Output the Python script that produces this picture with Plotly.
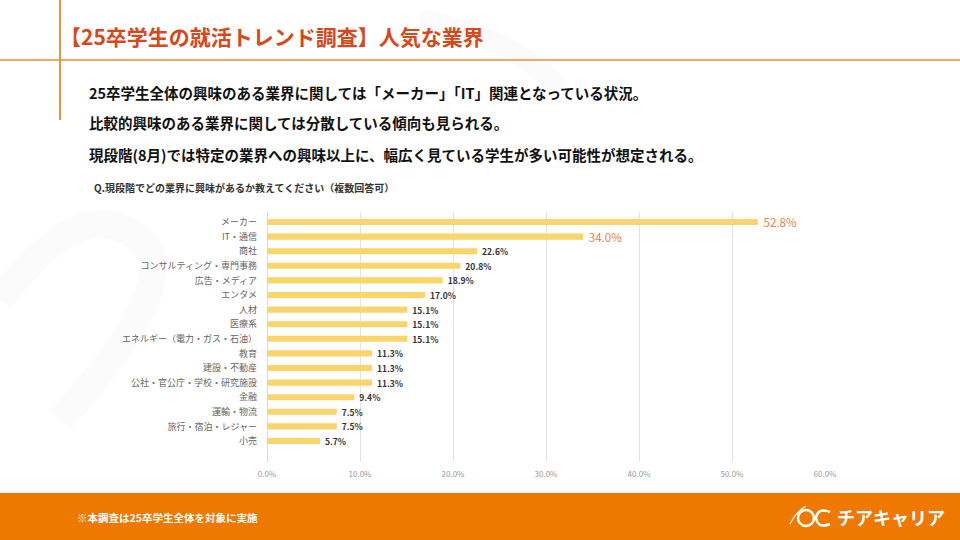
import plotly.graph_objects as go

categories = ["メーカー", "IT・通信", "商社", "コンサルティング・専門事務", "広告・メディア",
              "エンタメ", "人材", "医療系", "エネルギー（電力・ガス・石油）", "教育",
              "建設・不動産", "公社・官公庁・学校・研究施設", "金融", "運輸・物流",
              "旅行・宿泊・レジャー", "小売"]
values = [52.8, 34.0, 22.6, 20.8, 18.9, 17.0, 15.1, 15.1, 15.1, 11.3, 11.3, 11.3, 9.4, 7.5, 7.5, 5.7]
x_ticks = [0, 10, 20, 30, 40, 50, 60]
x_tick_labels = ["0.0%", "10.0%", "20.0%", "30.0%", "40.0%", "50.0%", "60.0%"]

title_text = "【25卒学生の就活トレンド調査】人気な業界"
body_lines = [
    "25卒学生全体の興味のある業界に関しては「メーカー」「IT」関連となっている状況。",
    "比較的興味のある業界に関しては分散している傾向も見られる。",
    "現段階(8月)では特定の業界への興味以上に、幅広く見ている学生が多い可能性が想定される。",
]
question = "Q.現段階でどの業界に興味があるか教えてください（複数回答可）"
footnote = "※本調査は25卒学生全体を対象に実施"
brand = "チアキャリア"

W, H = 960, 540
FONT = "Noto Sans CJK JP"
ORANGE = "#EE7800"
LINE = "#E8923A"
TITLE_C = "#D9481A"
BAR_C = "#FAD56B"


def px(x):
    return x / W


def py(y):
    return 1 - y / H


n = len(categories)
texts, tsizes, tcolors = [], [], []
for i, v in enumerate(values):
    if i < 2:
        texts.append(f" {v:.1f}%")
        tsizes.append(11.5)
        tcolors.append("#E8843E")
    else:
        texts.append(f" <b>{v:.1f}%</b>")
        tsizes.append(8.5)
        tcolors.append("#333333")

fig = go.Figure()
fig.add_trace(go.Bar(
    x=values, y=list(range(n)), orientation="h",
    marker=dict(color=BAR_C, line=dict(width=0)),
    width=0.42,
    text=texts, textposition="outside", cliponaxis=False, constraintext="none",
    textfont=dict(family=FONT, size=tsizes, color=tcolors),
    hoverinfo="skip",
))

# plot area geometry
top_px, bot_px = 212, 462
first_cat_px = 222
spacing = (441 - 222) / 15
units = (bot_px - top_px) / spacing
r_top = -(first_cat_px - top_px) / spacing
r_bot = r_top + units

fig.update_layout(
    width=W, height=H,
    margin=dict(l=0, r=0, t=0, b=0),
    paper_bgcolor="white", plot_bgcolor="rgba(0,0,0,0)",
    showlegend=False,
    xaxis=dict(domain=[px(267), px(825)], range=[0, 60], tickvals=x_ticks,
               ticktext=x_tick_labels, showgrid=True, gridcolor="#E3E3E3", gridwidth=1,
               zeroline=True, zerolinecolor="#DADADA", zerolinewidth=1,
               tickfont=dict(family=FONT, size=8, color="#9A9A9A"),
               ticks="", ticklabelstandoff=6, automargin=False, fixedrange=True,
               anchor="y"),
    yaxis=dict(domain=[py(bot_px), py(top_px)], range=[r_bot, r_top],
               tickvals=list(range(n)), ticktext=categories, showgrid=False,
               zeroline=False, ticks="", ticklabelstandoff=9,
               tickfont=dict(family=FONT, size=9, color="#666666"),
               automargin=False, fixedrange=True, anchor="x"),
    font=dict(family=FONT),
)

shapes = []
# faint watermark strokes
shapes.append(dict(type="path", xref="paper", yref="paper",
                   path=f"M {px(0)},{py(300)} Q {px(90)},{py(180)} {px(150)},{py(250)} "
                        f"Q {px(170)},{py(300)} {px(60)},{py(420)}",
                   line=dict(color="rgba(0,0,0,0.015)", width=28), layer="below"))
shapes.append(dict(type="path", xref="paper", yref="paper",
                   path=f"M {px(420)},{py(20)} Q {px(520)},{py(40)} {px(560)},{py(90)}",
                   line=dict(color="rgba(0,0,0,0.015)", width=22), layer="below"))
# header lines
shapes.append(dict(type="line", xref="paper", yref="paper", x0=0, x1=1, y0=py(60), y1=py(60),
                   line=dict(color=LINE, width=1.6), layer="below"))
shapes.append(dict(type="line", xref="paper", yref="paper", x0=px(60), x1=px(60), y0=py(0), y1=py(120),
                   line=dict(color=LINE, width=2), layer="below"))
# footer
shapes.append(dict(type="rect", xref="paper", yref="paper", x0=0, x1=1, y0=0, y1=py(493),
                   fillcolor=ORANGE, line=dict(width=0), layer="below"))
# logo mark
shapes.append(dict(type="circle", xref="paper", yref="paper",
                   x0=px(798), x1=px(814), y0=py(526), y1=py(510),
                   line=dict(color="white", width=2.5), layer="above"))
shapes.append(dict(type="path", xref="paper", yref="paper",
                   path=f"M {px(830)},{py(512)} Q {px(818)},{py(507)} {px(816)},{py(518)} "
                        f"Q {px(818)},{py(529)} {px(830)},{py(524)}",
                   line=dict(color="white", width=2.5), layer="above"))
shapes.append(dict(type="path", xref="paper", yref="paper",
                   path=f"M {px(790)},{py(524)} Q {px(796)},{py(512)} {px(806)},{py(506)}",
                   line=dict(color="white", width=1.2), layer="above"))
fig.update_layout(shapes=shapes)

ann = []
ann.append(dict(text=f"<b>{title_text}</b>", x=px(58), y=py(36), xref="paper", yref="paper",
                xanchor="left", yanchor="middle", showarrow=False,
                font=dict(family=FONT, size=21, color=TITLE_C)))
for i, line in enumerate(body_lines):
    ann.append(dict(text=f"<b>{line}</b>", x=px(87), y=py(92 + i * 31), xref="paper", yref="paper",
                    xanchor="left", yanchor="middle", showarrow=False,
                    font=dict(family=FONT, size=14.5, color="#111111")))
ann.append(dict(text=f"<b>{question}</b>", x=px(92), y=py(187), xref="paper", yref="paper",
                xanchor="left", yanchor="middle", showarrow=False,
                font=dict(family=FONT, size=10, color="#333333")))
ann.append(dict(text=f"<b>{footnote}</b>", x=px(75), y=py(517), xref="paper", yref="paper",
                xanchor="left", yanchor="middle", showarrow=False,
                font=dict(family=FONT, size=10.5, color="white")))
ann.append(dict(text=f"<b>{brand}</b>", x=px(835), y=py(517), xref="paper", yref="paper",
                xanchor="left", yanchor="middle", showarrow=False,
                font=dict(family=FONT, size=18, color="white")))
fig.update_layout(annotations=ann)

fig.write_html("out.html", config={"displayModeBar": False},
               post_script="document.body.style.margin='0';document.body.style.padding='0';"
                           "document.body.style.overflow='hidden';")
